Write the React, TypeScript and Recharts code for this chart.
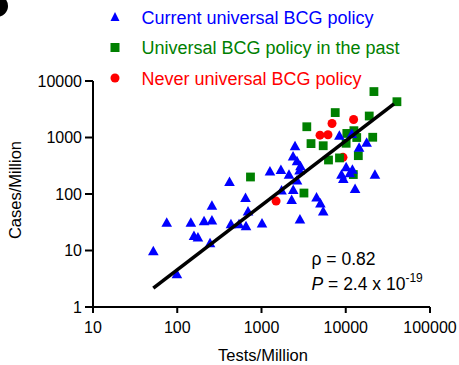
import React from 'react';
import { ScatterChart, Scatter, XAxis, YAxis } from 'recharts';

// Tests per million vs. cases per million, grouped by BCG vaccination policy
const currentPolicy = [
  { tests: 52, cases: 9.7 },
  { tests: 99, cases: 3.8 },
  { tests: 75, cases: 31 },
  { tests: 145, cases: 31 },
  { tests: 158, cases: 18 },
  { tests: 176, cases: 17 },
  { tests: 208, cases: 33 },
  { tests: 258, cases: 34 },
  { tests: 258, cases: 62 },
  { tests: 245, cases: 13.4 },
  { tests: 417, cases: 163 },
  { tests: 434, cases: 29 },
  { tests: 541, cases: 29 },
  { tests: 646, cases: 85 },
  { tests: 692, cases: 49 },
  { tests: 655, cases: 27 },
  { tests: 1014, cases: 30 },
  { tests: 1260, cases: 250 },
  { tests: 1700, cases: 265 },
  { tests: 2120, cases: 220 },
  { tests: 2500, cases: 700 },
  { tests: 2370, cases: 460 },
  { tests: 2640, cases: 380 },
  { tests: 2900, cases: 310 },
  { tests: 2830, cases: 260 },
  { tests: 2640, cases: 173 },
  { tests: 1730, cases: 115 },
  { tests: 2380, cases: 118 },
  { tests: 2280, cases: 78 },
  { tests: 4500, cases: 87 },
  { tests: 5000, cases: 68 },
  { tests: 5400, cases: 49 },
  { tests: 2860, cases: 35.5 },
  { tests: 8400, cases: 1070 },
  { tests: 11800, cases: 1150 },
  { tests: 17700, cases: 810 },
  { tests: 14400, cases: 660 },
  { tests: 10100, cases: 297 },
  { tests: 12000, cases: 270 },
  { tests: 8900, cases: 220 },
  { tests: 9350, cases: 185 },
  { tests: 11200, cases: 233 },
  { tests: 22200, cases: 220 },
  { tests: 12900, cases: 122 },
];

const pastPolicy = [
  { tests: 21600, cases: 6500 },
  { tests: 40500, cases: 4300 },
  { tests: 7500, cases: 2760 },
  { tests: 19000, cases: 2400 },
  { tests: 3450, cases: 1550 },
  { tests: 3870, cases: 780 },
  { tests: 5400, cases: 715 },
  { tests: 10300, cases: 1180 },
  { tests: 12500, cases: 1320 },
  { tests: 13500, cases: 1000 },
  { tests: 10100, cases: 790 },
  { tests: 20900, cases: 1010 },
  { tests: 6240, cases: 400 },
  { tests: 8430, cases: 435 },
  { tests: 14100, cases: 477 },
  { tests: 12300, cases: 221 },
  { tests: 740, cases: 200 },
  { tests: 3190, cases: 104 },
];

const neverPolicy = [
  { tests: 6870, cases: 1770 },
  { tests: 12400, cases: 2080 },
  { tests: 4950, cases: 1100 },
  { tests: 6150, cases: 1120 },
  { tests: 9270, cases: 445 },
  { tests: 1490, cases: 75 },
];

// Log-log regression line endpoints
const fitLine = [
  { tests: 52, cases: 2.16 },
  { tests: 37400, cases: 3935 },
];

const xTicks = [10, 100, 1000, 10000, 100000];
const yTicks = [1, 10, 100, 1000, 10000];

const legendItems = [
  { label: 'Current universal BCG policy', color: '#0000ff', kind: 'triangle' },
  { label: 'Universal BCG policy in the past', color: '#008000', kind: 'square' },
  { label: 'Never universal BCG policy', color: '#ff0000', kind: 'circle' },
];

const BLUE = '#0000ff';
const GREEN = '#008000';
const RED = '#ff0000';
const FONT = '"Liberation Sans", Arial, Helvetica, sans-serif';

const Triangle = (p: any) => (
  <path
    d={`M${p.cx},${p.cy - 5.5}L${p.cx + 5.3},${p.cy + 4}L${p.cx - 5.3},${p.cy + 4}Z`}
    fill={BLUE}
  />
);
const Square = (p: any) => (
  <rect x={p.cx - 4.4} y={p.cy - 4.4} width={8.8} height={8.8} fill={GREEN} />
);
const Dot = (p: any) => <circle cx={p.cx} cy={p.cy} r={4.5} fill={RED} />;
const NoMarker = () => <g />;

function LegendMarker({ kind, color, y }: { kind: string; color: string; y: number }) {
  if (kind === 'triangle')
    return <path d={`M115,${y - 5}L119.5,${y + 4}L110.5,${y + 4}Z`} fill={color} />;
  if (kind === 'square')
    return <rect x={110.5} y={y - 4.5} width={9} height={9} fill={color} />;
  return <circle cx={115} cy={y} r={4.5} fill={color} />;
}

export default function App() {
  return (
    <div
      style={{
        position: 'absolute',
        left: 0,
        top: 0,
        width: 459,
        height: 365,
        background: '#fff',
        fontFamily: FONT,
        overflow: 'hidden',
      }}
    >
      <ScatterChart
        width={459}
        height={365}
        margin={{ top: 81, right: 29, bottom: 28, left: 33 }}
      >
        <XAxis
          dataKey="tests"
          type="number"
          scale="log"
          domain={[10, 100000]}
          ticks={xTicks}
          allowDataOverflow
          height={30}
          axisLine={{ stroke: '#000', strokeWidth: 2 }}
          tickLine={{ stroke: '#000', strokeWidth: 2 }}
          tickSize={6}
          tickMargin={9}
          tick={{ fill: '#000', fontSize: 16, fontFamily: FONT }}
          interval={0}
        />
        <YAxis
          dataKey="cases"
          type="number"
          scale="log"
          domain={[1, 10000]}
          ticks={yTicks}
          allowDataOverflow
          width={60}
          axisLine={{ stroke: '#000', strokeWidth: 2 }}
          tickLine={{ stroke: '#000', strokeWidth: 2 }}
          tickSize={8}
          tickMargin={3}
          tick={{ fill: '#000', fontSize: 16, fontFamily: FONT }}
          interval={0}
        />
        <Scatter data={neverPolicy} shape={Dot} isAnimationActive={false} />
        <Scatter data={pastPolicy} shape={Square} isAnimationActive={false} />
        <Scatter data={currentPolicy} shape={Triangle} isAnimationActive={false} />
        <Scatter
          data={fitLine}
          shape={NoMarker}
          line={{ stroke: '#000', strokeWidth: 3.6 }}
          isAnimationActive={false}
        />
      </ScatterChart>
      <svg
        width={459}
        height={365}
        style={{ position: 'absolute', left: 0, top: 0, pointerEvents: 'none' }}
        fontFamily={FONT}
      >
        <circle cx={-3} cy={6} r={11} fill="#000" />
        {legendItems.map((item, i) => {
          const y = 17 + i * 30.5;
          return (
            <g key={item.label}>
              <LegendMarker kind={item.kind} color={item.color} y={y} />
              <text x={141.5} y={y + 6.5} fontSize={18} fill={item.color}>
                {item.label}
              </text>
            </g>
          );
        })}
        <text x={263} y={361} fontSize={16.5} textAnchor="middle" fill="#000">
          Tests/Million
        </text>
        <text
          x={0}
          y={0}
          fontSize={16.5}
          textAnchor="middle"
          fill="#000"
          transform="translate(21,190) rotate(-90)"
        >
          Cases/Million
        </text>
        <text x={311.5} y={265} fontSize={17.5} fill="#000">
          ρ = 0.82
        </text>
        <text x={311.5} y={290} fontSize={17.5} fill="#000">
          <tspan fontStyle="italic">P</tspan>
          <tspan> = 2.4 x 10</tspan>
          <tspan fontSize={12} dy={-8}>
            -19
          </tspan>
        </text>
      </svg>
    </div>
  );
}
